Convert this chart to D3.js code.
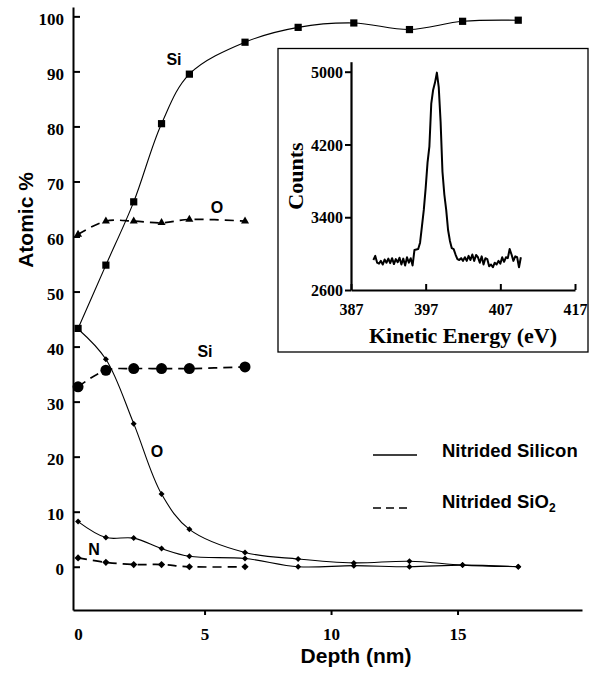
<!DOCTYPE html>
<html>
<head>
<meta charset="utf-8">
<script src="https://cdn.jsdelivr.net/npm/d3@7"></script>
<style>
  body { margin: 0; background: #fff; }
  svg { display: block; }
</style>
</head>
<body>
<div id="chart"></div>
<script>
// depth profile (main plot)
var depthSilicon = [0, 1.1, 2.2, 3.3, 4.4, 6.6, 8.7, 10.9, 13.1, 15.2, 17.4];
var siSilicon = [43.3, 54.8, 66.3, 80.5, 89.5, 95.3, 98.0, 98.8, 97.6, 99.1, 99.3];
var oSilicon = [43.2, 37.7, 26.0, 13.2, 6.8, 2.6, 1.4, 0.7, 1.0, 0.3, 0];
var nSilicon = [8.2, 5.3, 5.2, 3.3, 1.9, 1.5, 0, 0.2, 0, 0.3, 0];

var depthSiO2 = [0, 1.1, 2.2, 3.3, 4.4, 6.6];
var oSiO2 = [60.4, 62.8, 62.8, 62.5, 63.1, 62.8];
var siSiO2 = [32.7, 35.7, 36.0, 36.0, 36.0, 36.3];
var nSiO2 = [1.6, 0.8, 0.4, 0.4, 0, 0];

var yTicks = [0, 10, 20, 30, 40, 50, 60, 70, 80, 90, 100];
var xTicks = [0, 5, 10, 15];

// inset spectrum
var energy = [390.0, 390.25, 390.5, 390.75, 391.0, 391.25, 391.5, 391.75, 392.0, 392.25,
    392.5, 392.75, 393.0, 393.25, 393.5, 393.75, 394.0, 394.25, 394.5, 394.75,
    395.0, 395.25, 395.5, 395.75, 396.0, 396.25, 396.5, 396.75, 397.0, 397.25,
    397.5, 397.75, 398.0, 398.25, 398.5, 398.75, 399.0, 399.25, 399.5, 399.75,
    400.0, 400.25, 400.5, 400.75, 401.0, 401.25, 401.5, 401.75, 402.0, 402.25,
    402.5, 402.75, 403.0, 403.25, 403.5, 403.75, 404.0, 404.25, 404.5, 404.75,
    405.0, 405.25, 405.5, 405.75, 406.0, 406.25, 406.5, 406.75, 407.0, 407.25,
    407.5, 407.75, 408.0, 408.25, 408.5, 408.75, 409.0, 409.25, 409.5, 409.75];
var counts = [2930, 2975, 2900, 2890, 2920, 2880, 2935, 2900, 2945, 2895,
    2950, 2885, 2940, 2905, 2955, 2880, 2945, 2870, 2960, 2900,
    2950, 2870, 3040, 3045, 3050, 3120, 3300, 3480, 3720, 4000,
    4180, 4650, 4800, 4880, 4990, 4830, 4450, 3900, 3650, 3480,
    3260, 3140, 3060, 3050, 2990, 2940, 2930, 2950, 2920, 2960,
    2920, 2975, 2930, 2990, 2920, 2985, 2960, 2900, 2970, 2880,
    2950, 2940, 2860, 2880, 2850, 2900, 2880, 2920, 2890, 2960,
    2910, 2960, 2950, 3050, 2990, 2920, 2970, 2960, 2850, 2960];
var insetYTicks = [2600, 3400, 4200, 5000];
var insetXTicks = [387, 397, 407, 417];

var serif = "'Liberation Serif', 'Times New Roman', serif";
var sans = "'Liberation Sans', Arial, sans-serif";

var margin = {top: 7, right: 10, bottom: 63, left: 73},
    width = 592 - margin.left - margin.right,
    height = 673 - margin.top - margin.bottom;

var svg = d3.select("#chart")
    .append("svg")
    .attr("width", 592)
    .attr("height", 673);

var g = svg.append("g")
    .attr("transform", "translate(" + margin.left + "," + margin.top + ")");

var x = d3.scaleLinear()
    .domain([-0.2, 19.92])
    .range([0, width]);

var y = d3.scaleLinear()
    .domain([-7.86, 101.7])
    .range([height, 0]);

// Y axis, ticks pointing inward
var yAxis = g.append("g")
    .call(d3.axisLeft(y).tickValues(yTicks).tickSizeInner(-7).tickSizeOuter(0).tickPadding(9));
yAxis.select(".domain").attr("stroke-width", 2);
yAxis.selectAll(".tick line").attr("stroke-width", 2);
yAxis.selectAll("text")
    .style("font-family", serif)
    .style("font-weight", "bold")
    .style("font-size", "17px")
    .attr("dy", "0.45em");

// X axis
var xAxis = g.append("g")
    .attr("transform", "translate(0," + height + ")")
    .call(d3.axisBottom(x).tickValues(xTicks).tickSizeInner(5).tickSizeOuter(0).tickPadding(13));
xAxis.select(".domain").attr("stroke-width", 2);
xAxis.selectAll(".tick line")
    .attr("stroke-width", 2)
    .attr("display", function (d) { return d === 0 ? "none" : null; });
xAxis.selectAll("text")
    .style("font-family", serif)
    .style("font-weight", "bold")
    .style("font-size", "17px");

// axis titles
svg.append("text")
    .attr("transform", "translate(33,220) rotate(-90)")
    .style("text-anchor", "middle")
    .style("font-family", sans)
    .style("font-weight", "bold")
    .style("font-size", "21px")
    .text("Atomic %");

svg.append("text")
    .attr("x", 356)
    .attr("y", 663)
    .style("text-anchor", "middle")
    .style("font-family", sans)
    .style("font-weight", "bold")
    .style("font-size", "21px")
    .text("Depth (nm)");

function series(xs, ys) {
    return xs.map(function (d, i) { return [d, ys[i]]; });
}

var line = d3.line()
    .x(function (d) { return x(d[0]); })
    .y(function (d) { return y(d[1]); })
    .curve(d3.curveCatmullRom.alpha(0.5));

function drawLine(data, dashed) {
    g.append("path")
        .datum(data)
        .attr("fill", "none")
        .attr("stroke", "#000")
        .attr("stroke-width", dashed ? 1.7 : 1.1)
        .attr("stroke-dasharray", dashed ? "9,6" : null)
        .attr("d", line);
}

function drawMarks(data, type, size, rotate) {
    g.append("g")
        .selectAll("path")
        .data(data)
        .enter()
        .append("path")
        .attr("transform", function (d) {
            return "translate(" + x(d[0]) + "," + y(d[1]) + ")" + (rotate ? " rotate(45)" : "");
        })
        .attr("d", d3.symbol().type(type).size(size))
        .attr("fill", "#000");
}

var siS = series(depthSilicon, siSilicon),
    oS = series(depthSilicon, oSilicon),
    nS = series(depthSilicon, nSilicon),
    oD = series(depthSiO2, oSiO2),
    siD = series(depthSiO2, siSiO2),
    nD = series(depthSiO2, nSiO2);

drawLine(siS, false);
drawLine(oS, false);
drawLine(nS, false);
drawLine(oD, true);
drawLine(siD, true);
drawLine(nD, true);

drawMarks(siS, d3.symbolSquare, 52, false);
drawMarks(oS, d3.symbolSquare, 18, true);
drawMarks(nS, d3.symbolSquare, 18, true);
drawMarks(oD, d3.symbolTriangle, 28, false);
drawMarks(nD, d3.symbolSquare, 26, true);
g.append("g")
    .selectAll("circle")
    .data(siD)
    .enter()
    .append("circle")
    .attr("cx", function (d) { return x(d[0]); })
    .attr("cy", function (d) { return y(d[1]); })
    .attr("r", 5.5)
    .attr("fill", "#000");

// element labels
var labels = [["Si", 174, 65], ["O", 217, 213], ["Si", 205, 357], ["O", 157, 457], ["N", 94, 555]];
svg.append("g")
    .selectAll("text")
    .data(labels)
    .enter()
    .append("text")
    .attr("x", function (d) { return d[1]; })
    .attr("y", function (d) { return d[2]; })
    .style("text-anchor", "middle")
    .style("font-family", sans)
    .style("font-weight", "bold")
    .style("font-size", "16px")
    .text(function (d) { return d[0]; });

// legend
var legend = svg.append("g").style("font-family", sans).style("font-weight", "bold").style("font-size", "18.5px");
legend.append("line")
    .attr("x1", 373).attr("x2", 417).attr("y1", 455).attr("y2", 455)
    .attr("stroke", "#000").attr("stroke-width", 1.7);
legend.append("text").attr("x", 442).attr("y", 457).text("Nitrided Silicon");
legend.append("line")
    .attr("x1", 373).attr("x2", 411).attr("y1", 508).attr("y2", 508)
    .attr("stroke", "#000").attr("stroke-width", 1.7)
    .attr("stroke-dasharray", "8,5");
var t2 = legend.append("text").attr("x", 442).attr("y", 508);
t2.append("tspan").text("Nitrided SiO");
t2.append("tspan").attr("dy", 4).style("font-size", "12px").text("2");

// inset
svg.append("rect")
    .attr("x", 278)
    .attr("y", 48.5)
    .attr("width", 310)
    .attr("height", 303.5)
    .attr("fill", "#fff")
    .attr("stroke", "#000")
    .attr("stroke-width", 1.3);

var ix = d3.scaleLinear().domain([387, 417]).range([351, 575]);
var iy = d3.scaleLinear().domain([2600, 5110]).range([290, 61.7]);

var inset = svg.append("g");

var iyAxis = inset.append("g")
    .attr("transform", "translate(351,0)")
    .call(d3.axisLeft(iy).tickValues(insetYTicks).tickFormat(d3.format("d"))
        .tickSizeInner(6).tickSizeOuter(0).tickPadding(2));
var ixAxis = inset.append("g")
    .attr("transform", "translate(0,290)")
    .call(d3.axisBottom(ix).tickValues(insetXTicks).tickFormat(d3.format("d"))
        .tickSizeInner(-6).tickSizeOuter(0).tickPadding(14));
[iyAxis, ixAxis].forEach(function (a) {
    a.select(".domain").attr("stroke-width", 2.2);
    a.selectAll(".tick line").attr("stroke-width", 2);
    a.selectAll("text")
        .style("font-family", serif)
        .style("font-weight", "bold")
        .style("font-size", "16px");
});
iyAxis.selectAll("text").attr("dy", "0.35em");

inset.append("path")
    .datum(series(energy, counts))
    .attr("fill", "none")
    .attr("stroke", "#000")
    .attr("stroke-width", 2)
    .attr("stroke-linejoin", "round")
    .attr("d", d3.line()
        .x(function (d) { return ix(d[0]); })
        .y(function (d) { return iy(d[1]); }));

inset.append("text")
    .attr("transform", "translate(303,176) rotate(-90)")
    .style("text-anchor", "middle")
    .style("font-family", serif)
    .style("font-weight", "bold")
    .style("font-size", "22px")
    .text("Counts");

inset.append("text")
    .attr("x", 463)
    .attr("y", 343)
    .style("text-anchor", "middle")
    .style("font-family", serif)
    .style("font-weight", "bold")
    .style("font-size", "22px")
    .text("Kinetic Energy (eV)");
</script>
</body>
</html>
